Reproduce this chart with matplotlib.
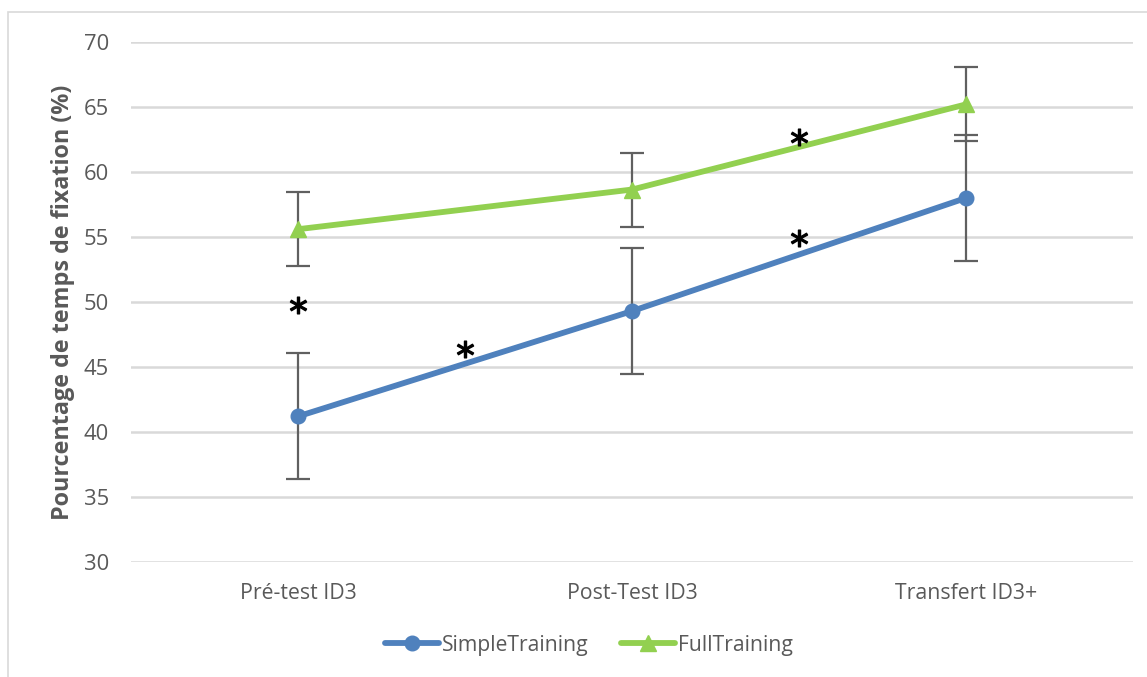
import matplotlib
matplotlib.use("Agg")
import matplotlib.pyplot as plt
from matplotlib.patches import Rectangle

categories = ["Pré-test ID3", "Post-Test ID3", "Transfert ID3+"]
simple_values = [41.2, 49.3, 58.0]
simple_err = [4.85, 4.85, 4.85]
full_values = [55.6, 58.65, 65.2]
full_err = [2.85, 2.85, 2.85]
# significance asterisks (x in category units, y in data units)
star_x = [0.0, 0.5, 1.5, 1.5]
star_y = [49.8, 46.4, 62.7, 54.9]
yticks = [30, 35, 40, 45, 50, 55, 60, 65, 70]

plt.rcParams['font.family'] = ['Open Sans', 'DejaVu Sans']
txt = '#595959'

fig = plt.figure(figsize=(11.47, 6.77), dpi=100)
fig.patches.append(Rectangle((8/1147, -0.1), 1.2, 1 - 12/677 + 0.1,
                             transform=fig.transFigure, fill=False,
                             edgecolor='#D9D9D9', linewidth=1.2))
ax = fig.add_axes([131/1147, 1 - 562/677, (1133-131)/1147, (562-42)/677])

x = list(range(len(categories)))
ax.errorbar(x, simple_values, yerr=simple_err, fmt='none', ecolor='#606060',
            elinewidth=1.6, capsize=8.4, capthick=1.6, zorder=3)
ax.errorbar(x, full_values, yerr=full_err, fmt='none', ecolor='#606060',
            elinewidth=1.6, capsize=8.4, capthick=1.6, zorder=3)
ax.plot(x, simple_values, color='#4F81BD', lw=4.2, marker='o', ms=10.5,
        label='SimpleTraining', zorder=4, solid_capstyle='round')
ax.plot(x, full_values, color='#92D050', lw=4.2, marker='^', ms=11,
        label='FullTraining', zorder=4, solid_capstyle='round')
ax.plot(star_x, star_y, ls='none', marker='$*$', ms=12, color='black', zorder=5)

ax.set_xlim(-0.5, 2.5)
ax.set_ylim(30, 70)
ax.set_yticks(yticks)
ax.set_xticks(x)
ax.set_xticklabels(categories)
ax.grid(axis='y', color='#D9D9D9', lw=1.8, zorder=0)
ax.set_axisbelow(True)
for s in ax.spines.values():
    s.set_visible(False)
ax.tick_params(axis='y', length=0, pad=16, labelsize=15.8, labelcolor=txt)
ax.tick_params(axis='x', length=0, pad=15, labelsize=15.3, labelcolor=txt)
ax.set_ylabel('Pourcentage de temps de fixation (%)', fontsize=16.8,
              fontweight='bold', color=txt, labelpad=6)

leg = fig.legend(loc='center', bbox_to_anchor=(589/1147, 1 - 645/677), ncol=2,
                 frameon=False, fontsize=15.2, handlelength=2.55, handletextpad=0.15,
                 columnspacing=1.5, labelcolor=txt)

fig.savefig('out.png', dpi=100)
